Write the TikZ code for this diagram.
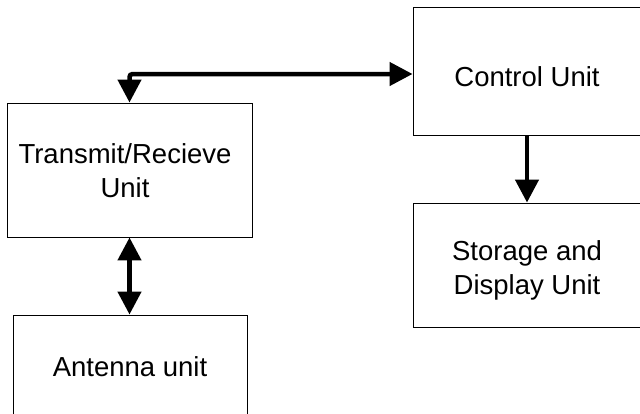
\documentclass[tikz,border=0pt]{standalone}
\usepackage{fontspec}
\setmainfont{Liberation Sans}
\usetikzlibrary{arrows.meta}
\begin{document}
\begin{tikzpicture}[x=1pt,y=1pt,
  box/.style={draw=black, line width=0.9pt, rectangle, inner sep=0pt},
  lbl/.style={font=\fontsize{27.5}{34}\selectfont, align=center, inner sep=0pt},
  arr/.style={line width=4.5pt, -{Triangle[length=23pt,width=23pt]}},
  darr/.style={line width=4.5pt, {Triangle[length=23pt,width=23pt]}-{Triangle[length=23pt,width=23pt]}}]
\useasboundingbox (0,0) rectangle (640,-413);
\clip (0,0) rectangle (640,-413);
\node[box, minimum width=245pt, minimum height=134pt] (trans) at (129.5,-170) {};
\node[box, minimum width=234pt, minimum height=104pt] (ant) at (130,-367) {};
\node[box, minimum width=228pt, minimum height=128pt] (ctrl) at (527,-71) {};
\node[box, minimum width=228pt, minimum height=124pt] (stor) at (527,-265) {};
\node[lbl] (transL) at (125,-170.5) {Transmit/Recieve\\Unit};
\node[lbl] (antL) at (130,-367) {Antenna unit};
\node[lbl] (ctrlL) at (527,-77) {Control Unit};
\node[lbl] (storL) at (527,-270) {Storage and\\Display Unit};
\coordinate (c1) at (ctrl.west |- 0,-74);
\draw[darr, rounded corners=3pt] (trans.north) |- (c1);
\draw[darr] (trans.south) -- (trans.south |- ant.north);
\draw[arr] (ctrl.south) -- (stor.north);
\end{tikzpicture}
\end{document}
